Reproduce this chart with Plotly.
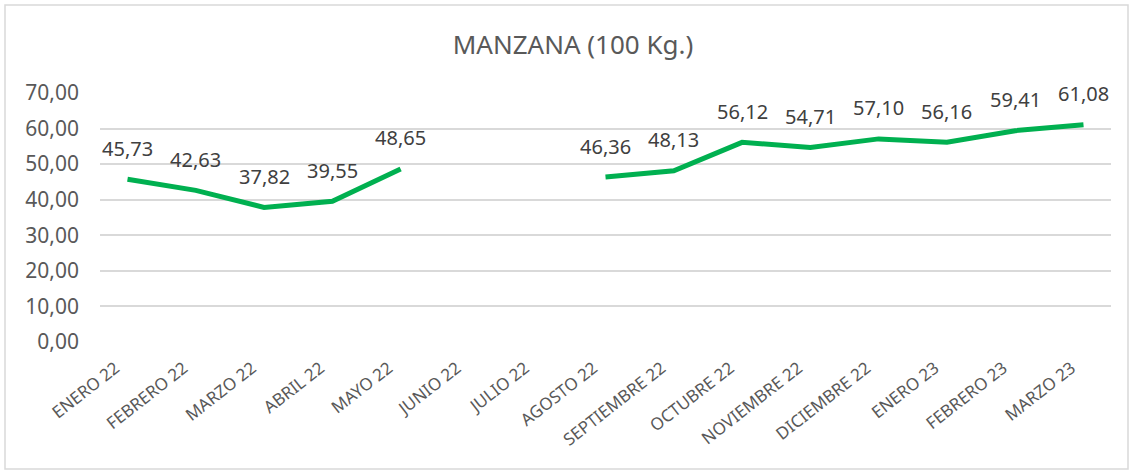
import plotly.graph_objects as go

meses = ["ENERO 22", "FEBRERO 22", "MARZO 22", "ABRIL 22", "MAYO 22", "JUNIO 22",
         "JULIO 22", "AGOSTO 22", "SEPTIEMBRE 22", "OCTUBRE 22", "NOVIEMBRE 22",
         "DICIEMBRE 22", "ENERO 23", "FEBRERO 23", "MARZO 23"]
precios = [45.73, 42.63, 37.82, 39.55, 48.65, None, None, 46.36, 48.13,
           56.12, 54.71, 57.10, 56.16, 59.41, 61.08]
y_ticks = [0, 10, 20, 30, 40, 50, 60, 70]

gris = "#595959"
fuente = "Noto Sans"

fig = go.Figure()
fig.add_trace(go.Scatter(
    x=meses, y=precios, mode="lines", connectgaps=False,
    line=dict(color="#00B050", width=5),
    hoverinfo="skip",
))

# etiquetas de datos encima de cada punto
for m, p in zip(meses, precios):
    if p is None:
        continue
    fig.add_annotation(
        x=m, y=p, text=f"{p:.2f}".replace(".", ","), showarrow=False,
        yshift=31, font=dict(family=fuente, size=20, color="#404040"),
    )

W, H = 1134, 475
ml, mr, mt, mb = 100, 23, 93, 133
pw, ph = W - ml - mr, H - mt - mb

# borde del grafico
fig.add_shape(
    type="rect", xref="paper", yref="paper",
    x0=(5 - ml) / pw, x1=(W - 6 - ml) / pw,
    y0=-(H - 6 - mt - ph) / ph, y1=1 + (mt - 5) / ph,
    line=dict(color="#D9D9D9", width=1.5), layer="below",
)

fig.update_layout(
    width=W, height=H,
    margin=dict(l=ml, r=mr, t=mt, b=mb, autoexpand=False),
    paper_bgcolor="white", plot_bgcolor="white",
    separators=",.",
    showlegend=False,
    title=dict(text="MANZANA (100 Kg.)", x=573 / W, xref="container",
               xanchor="center", y=1 - 45 / H, yref="container", yanchor="middle",
               font=dict(family=fuente, size=26, color=gris)),
    xaxis=dict(tickangle=-38, showgrid=False, showline=False, ticks="",
               automargin=False, ticklabelstandoff=12, ticklabelshift=-12,
               tickfont=dict(family=fuente, size=17, color=gris)),
    yaxis=dict(range=[0, 70], tickvals=y_ticks, tickformat=".2f",
               gridcolor="#D9D9D9", gridwidth=1.5, zeroline=False,
               showline=False, ticks="", automargin=False,
               ticklabelstandoff=20,
               tickfont=dict(family=fuente, size=21, color=gris)),
)

fig.write_html("out.html", config={"displayModeBar": False},
               post_script="document.body.style.margin='0';")
